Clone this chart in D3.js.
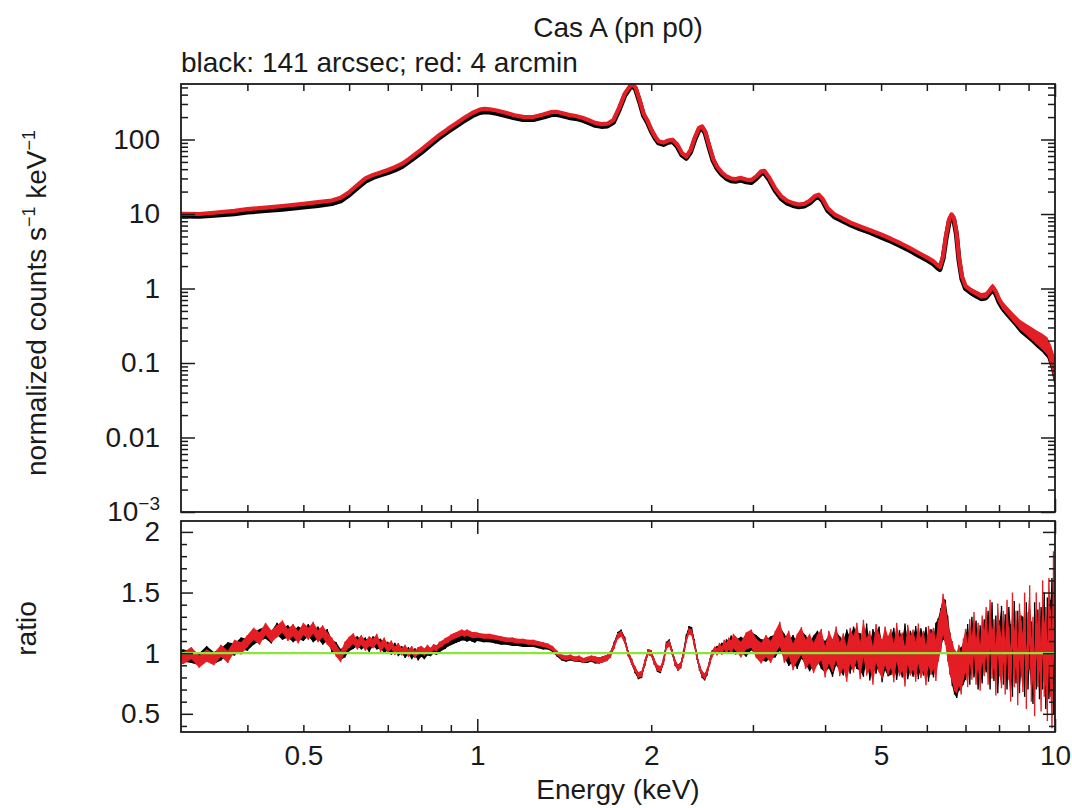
<!DOCTYPE html>
<html>
<head>
<meta charset="utf-8">
<script src="https://cdn.jsdelivr.net/npm/d3@7"></script>
<style>
  body { margin: 0; background: #fff; }
  text { font-family: "Liberation Sans", Arial, Helvetica, sans-serif; fill: #1a1a1a; }
</style>
</head>
<body>
<div id="container"></div>
<script>
/* DATA */
// upper panel: folded spectrum, counts s^-1 keV^-1
const specEnergy = [
  0.30, 0.33, 0.35, 0.38, 0.40, 0.43, 0.46, 0.50, 0.53, 0.56,
  0.58, 0.60, 0.62, 0.64, 0.66, 0.68, 0.70, 0.72, 0.74, 0.76,
  0.78, 0.80, 0.83, 0.86, 0.89, 0.92, 0.95, 0.98, 1.01, 1.03,
  1.05, 1.08, 1.12, 1.16, 1.20, 1.25, 1.30, 1.34, 1.37, 1.40,
  1.44, 1.48, 1.52, 1.56, 1.60, 1.64, 1.68, 1.72, 1.76, 1.80,
  1.84, 1.86, 1.88, 1.91, 1.94, 1.97, 2.00, 2.03, 2.06, 2.10,
  2.14, 2.18, 2.22, 2.26, 2.30, 2.34, 2.38, 2.42, 2.45, 2.48,
  2.52, 2.56, 2.60, 2.65, 2.70, 2.75, 2.80, 2.86, 2.92, 2.98,
  3.04, 3.10, 3.14, 3.20, 3.28, 3.36, 3.44, 3.52, 3.60, 3.68,
  3.76, 3.84, 3.90, 3.96, 4.04, 4.15, 4.30, 4.45, 4.60, 4.80,
  5.00, 5.20, 5.40, 5.60, 5.80, 6.00, 6.15, 6.25, 6.32, 6.40,
  6.48, 6.56, 6.62, 6.68, 6.75, 6.82, 6.90, 7.00, 7.15, 7.30,
  7.45, 7.60, 7.70, 7.80, 7.90, 8.00, 8.10, 8.30, 8.50, 8.70,
  8.90, 9.10, 9.30, 9.50, 9.70, 9.85, 10.0
];
const countsBlack = [
  9.4, 9.3, 9.6, 10.1, 10.6, 11.1, 11.6, 12.4, 13.0, 13.8,
  15.0, 18.0, 22.5, 27.5, 31, 33.5, 36, 39, 43, 50,
  58, 67, 85, 106, 128, 152, 180, 208, 230, 236,
  234, 225, 210, 195, 185, 185, 200, 215, 218, 210,
  198, 192, 182, 168, 155, 150, 152, 170, 250, 390,
  500, 520, 470, 320, 210, 170, 130, 105, 90, 86,
  92, 94, 80, 62, 56, 68, 100, 135, 142, 122,
  78, 52, 41, 34, 30, 28, 27.5, 28.5, 27, 26.5,
  30, 35, 35.5, 29, 20.5, 16, 14, 13, 12.5, 12.8,
  14, 16.3, 17, 15, 11.2, 9.2, 8.0, 7.0, 6.3, 5.6,
  4.9, 4.3, 3.75, 3.25, 2.8, 2.42, 2.15, 1.92, 1.8, 2.5,
  4.8, 8.0, 9.2, 8.4, 5.4, 2.4, 1.35, 1.0, 0.88, 0.8,
  0.74, 0.76, 0.86, 0.98, 0.84, 0.66, 0.56, 0.45, 0.37, 0.30,
  0.265, 0.235, 0.205, 0.185, 0.16, 0.12, 0.078
];
const countsRed = [
  10.1, 10.0, 10.4, 11.0, 11.6, 12.2, 12.8, 13.7, 14.4, 15.2,
  16.5, 19.6, 24.5, 30.0, 33.5, 36, 39, 42.5, 47, 54,
  63, 73, 92, 115, 139, 165, 196, 227, 252, 258,
  255, 245, 229, 212, 201, 200, 217, 233, 236, 227,
  214, 207, 196, 181, 167, 161, 163, 182, 266, 412,
  528, 548, 495, 338, 222, 180, 137, 111, 95, 91,
  97, 99, 85, 66, 59, 72, 106, 143, 150, 129,
  83, 55, 43.5, 36, 32, 30, 29.5, 30.5, 29, 28.5,
  32, 37.5, 38, 31, 22, 17.2, 15, 14, 13.4, 13.7,
  15, 17.4, 18.2, 16, 12, 9.9, 8.6, 7.5, 6.8, 6.0,
  5.3, 4.65, 4.05, 3.5, 3.02, 2.62, 2.33, 2.08, 1.95, 2.7,
  5.2, 8.6, 9.9, 9.0, 5.8, 2.6, 1.46, 1.08, 0.95, 0.87,
  0.80, 0.82, 0.93, 1.06, 0.91, 0.72, 0.61, 0.49, 0.40, 0.33,
  0.29, 0.255, 0.225, 0.2, 0.175, 0.13, 0.085
];
// fractional error of each upper-panel bin
const countsErr = [
  .03, .03, .03, .03, .03, .03, .03, .03, .03, .03,
  .025, .025, .025, .025, .025, .025, .025, .025, .025, .025,
  .02, .02, .02, .02, .02, .02, .02, .02, .02, .02,
  .02, .02, .02, .02, .02, .02, .02, .02, .02, .02,
  .02, .02, .02, .02, .02, .02, .02, .02, .02, .02,
  .02, .02, .02, .02, .02, .02, .02, .02, .02, .02,
  .02, .02, .02, .02, .02, .02, .02, .02, .02, .02,
  .025, .025, .025, .025, .025, .025, .025, .025, .025, .025,
  .03, .03, .03, .03, .03, .03, .03, .03, .03, .03,
  .035, .035, .035, .035, .035, .035, .035, .035, .035, .035,
  .04, .04, .04, .04, .04, .04, .04, .04, .04, .04,
  .05, .05, .05, .05, .05, .06, .07, .07, .08, .08,
  .09, .09, .1, .1, .1, .11, .12, .13, .14, .15,
  .17, .19, .21, .24, .27, .32, .4
];

// lower panel: data / model ratio
const ratioEnergy = [
  0.30, 0.31, 0.32, 0.33, 0.34, 0.35, 0.36, 0.37, 0.38, 0.39,
  0.40, 0.41, 0.42, 0.43, 0.44, 0.45, 0.46, 0.47, 0.48, 0.49,
  0.50, 0.51, 0.52, 0.53, 0.54, 0.55, 0.56, 0.57, 0.58, 0.59,
  0.60, 0.61, 0.62, 0.63, 0.64, 0.65, 0.66, 0.67, 0.68, 0.69,
  0.70, 0.71, 0.72, 0.73, 0.74, 0.75, 0.76, 0.77, 0.78, 0.79,
  0.80, 0.81, 0.82, 0.83, 0.84, 0.85, 0.86, 0.87, 0.88, 0.89,
  0.90, 0.91, 0.92, 0.93, 0.94, 0.95, 0.96, 0.97, 0.98, 0.99,
  1.000, 1.025, 1.050, 1.075, 1.100, 1.125, 1.150, 1.175, 1.200, 1.225,
  1.250, 1.275, 1.300, 1.325, 1.350, 1.375, 1.400, 1.425, 1.450, 1.475,
  1.500, 1.525, 1.550, 1.575, 1.600, 1.625, 1.650, 1.675, 1.700, 1.725,
  1.750, 1.775, 1.800, 1.825, 1.850, 1.875, 1.900, 1.925, 1.950, 1.975,
  2.000, 2.025, 2.050, 2.075, 2.100, 2.125, 2.150, 2.175, 2.200, 2.225,
  2.250, 2.275, 2.300, 2.325, 2.350, 2.375, 2.400, 2.425, 2.450, 2.475,
  2.500, 2.525, 2.550, 2.575, 2.600, 2.625, 2.650, 2.675, 2.700, 2.725,
  2.750, 2.775,
  2.80, 2.86, 2.92, 2.98, 3.04, 3.10, 3.16, 3.22, 3.28, 3.34,
  3.40, 3.46, 3.52, 3.58, 3.64, 3.70, 3.76, 3.82, 3.88, 3.94,
  4.00, 4.06, 4.12, 4.18, 4.24, 4.30, 4.36, 4.42, 4.48, 4.54,
  4.60, 4.66, 4.72, 4.78, 4.84, 4.90, 4.96, 5.02, 5.08, 5.14,
  5.20, 5.26, 5.32, 5.38, 5.44, 5.50, 5.56, 5.62, 5.68, 5.74,
  5.80, 5.86, 5.92, 5.98, 6.04, 6.10, 6.16, 6.22, 6.28, 6.34,
  6.40, 6.46, 6.52, 6.58, 6.64, 6.70, 6.76, 6.82, 6.88, 6.94,
  7.00, 7.06, 7.12, 7.18, 7.24, 7.30, 7.36, 7.42, 7.48, 7.54,
  7.60, 7.66, 7.72, 7.78, 7.84, 7.90, 7.96, 8.02, 8.08, 8.14,
  8.20, 8.26, 8.32, 8.38, 8.44, 8.50, 8.56, 8.62, 8.68, 8.74,
  8.80, 8.86, 8.92, 8.98, 9.04, 9.10, 9.16, 9.22, 9.28, 9.34,
  9.40, 9.46, 9.52, 9.58, 9.64, 9.70, 9.76, 9.82, 9.88, 9.94,
  10.00
];
const ratioRed = [
  0.97, 0.96, 1.00, 0.93, 0.98, 0.95, 1.02, 0.97, 1.06, 1.04,
  1.10, 1.16, 1.12, 1.20, 1.14, 1.18, 1.22, 1.15, 1.19, 1.13,
  1.20, 1.16, 1.21, 1.14, 1.18, 1.12, 1.08, 1.02, 0.97, 1.05,
  1.09, 1.12, 1.07, 1.11, 1.06, 1.10, 1.08, 1.12, 1.05, 1.09,
  1.04, 1.07, 1.02, 1.05, 1.01, 1.04, 1.00, 1.03, 0.99, 1.02,
  1.03, 1.01, 1.04, 1.02, 1.05, 1.04, 1.07, 1.08, 1.10, 1.11,
  1.13, 1.14, 1.15, 1.16, 1.17, 1.16, 1.17, 1.16, 1.15, 1.15,
  1.15, 1.14, 1.14, 1.13, 1.12, 1.11, 1.11, 1.10, 1.10, 1.09,
  1.09, 1.08, 1.07, 1.06, 1.04, 1.00, 0.97, 0.96, 0.97, 0.95,
  0.96, 0.94, 0.95, 0.96, 0.95, 0.94, 0.95, 0.96, 0.99, 1.06,
  1.14, 1.16, 1.10, 1.00, 0.93, 0.87, 0.82, 0.83, 0.92, 1.01,
  1.00, 0.93, 0.88, 0.87, 0.93, 1.06, 1.08, 1.01, 0.92, 0.88,
  0.90, 0.99, 1.11, 1.18, 1.17, 1.08, 0.97, 0.88, 0.83, 0.81,
  0.85, 0.93, 0.99, 1.03, 1.01, 1.05, 1.02, 1.07, 1.04, 1.08,
  1.05, 1.10,
  1.08, 1.03, 1.10, 1.12, 1.04, 1.00, 1.06, 1.01, 1.09, 1.16,
  1.02, 1.08, 0.97, 1.05, 1.10, 0.99, 1.04, 0.96, 1.03, 1.07,
  0.93, 1.05, 0.98, 1.08, 0.95, 1.02, 0.91, 1.06, 0.99, 1.10,
  0.94, 1.12, 0.97, 1.03, 0.90, 1.08, 1.00, 0.95, 1.06, 0.98,
  1.04, 0.92, 1.09, 0.97, 1.01, 0.89, 1.07, 0.98, 1.03, 0.93,
  1.08, 0.96, 1.02, 0.90, 1.06, 0.99, 1.04, 0.94, 1.10, 1.18,
  1.32, 1.24, 1.10, 0.99, 0.93, 0.86, 0.84, 0.90, 0.83, 0.95,
  1.02, 0.90, 1.10, 0.96, 1.16, 0.93, 1.06, 0.88, 1.12, 1.00,
  1.18, 0.94, 1.24, 0.99, 1.08, 0.86, 1.20, 1.02, 0.92, 1.14,
  0.88, 1.22, 1.00, 0.82, 1.28, 0.95, 1.12, 0.80, 1.18, 1.04,
  0.92, 1.26, 0.78, 1.10, 1.32, 0.86, 1.04, 0.74, 1.24, 0.98,
  1.14, 0.80, 1.30, 0.94, 1.06, 0.76, 1.28, 1.00, 0.78, 1.40,
  0.95
];
const ratioBlack = [
  0.99, 0.98, 0.97, 0.95, 1.01, 0.96, 0.99, 1.04, 1.03, 1.08,
  1.07, 1.12, 1.15, 1.17, 1.13, 1.20, 1.16, 1.18, 1.14, 1.17,
  1.15, 1.19, 1.14, 1.17, 1.12, 1.15, 1.06, 1.04, 0.99, 1.01,
  1.06, 1.08, 1.10, 1.07, 1.09, 1.05, 1.10, 1.07, 1.08, 1.04,
  1.06, 1.02, 1.05, 1.01, 1.03, 0.99, 1.02, 0.98, 1.01, 0.97,
  1.00, 0.98, 1.01, 1.00, 1.02, 1.01, 1.03, 1.05, 1.06, 1.08,
  1.09, 1.10, 1.11, 1.12, 1.13, 1.13, 1.12, 1.13, 1.12, 1.11,
  1.12, 1.11, 1.11, 1.10, 1.09, 1.09, 1.08, 1.08, 1.07, 1.07,
  1.07, 1.06, 1.05, 1.05, 1.03, 0.99, 0.96, 0.95, 0.96, 0.95,
  0.95, 0.94, 0.94, 0.95, 0.94, 0.94, 0.95, 0.96, 0.99, 1.07,
  1.15, 1.17, 1.11, 1.00, 0.93, 0.86, 0.81, 0.82, 0.92, 1.01,
  1.00, 0.93, 0.87, 0.86, 0.93, 1.07, 1.09, 1.01, 0.92, 0.88,
  0.90, 1.00, 1.13, 1.20, 1.19, 1.09, 0.97, 0.88, 0.82, 0.80,
  0.84, 0.93, 1.00, 1.02, 1.03, 1.03, 1.05, 1.04, 1.07, 1.05,
  1.09, 1.06,
  1.05, 1.07, 1.04, 1.10, 1.07, 1.03, 1.02, 1.05, 1.06, 1.12,
  1.06, 1.00, 1.04, 0.98, 1.07, 1.03, 0.97, 1.02, 1.06, 1.00,
  0.97, 1.01, 0.94, 1.04, 1.00, 0.96, 1.05, 0.98, 1.07, 1.02,
  1.01, 0.96, 1.09, 0.93, 1.04, 0.99, 1.06, 0.92, 1.02, 0.97,
  0.98, 1.05, 0.94, 1.03, 0.96, 1.08, 0.95, 1.02, 0.97, 1.06,
  0.95, 1.04, 0.98, 1.05, 0.93, 1.03, 0.97, 1.08, 1.12, 1.20,
  1.28, 1.27, 1.14, 1.00, 0.90, 0.83, 0.80, 0.86, 0.88, 0.91,
  0.96, 1.06, 0.92, 1.12, 0.98, 1.08, 0.89, 1.04, 0.94, 1.09,
  1.04, 1.15, 0.90, 1.22, 0.97, 1.10, 0.88, 1.06, 1.18, 0.95,
  1.10, 0.92, 1.16, 1.02, 0.86, 1.20, 0.98, 1.12, 0.90, 1.08,
  1.06, 0.88, 1.18, 0.94, 1.12, 1.00, 0.84, 1.16, 0.96, 1.10,
  0.90, 1.10, 1.00, 1.20, 0.86, 1.14, 0.96, 1.08, 1.22, 0.94,
  1.00
];
const ratioErr = [
  .05, .05, .05, .05, .05, .05, .05, .05, .05, .05,
  .05, .05, .05, .05, .05, .05, .05, .05, .05, .05,
  .05, .05, .05, .05, .05, .05, .05, .05, .045, .045,
  .045, .045, .04, .04, .04, .04, .04, .04, .04, .04,
  .035, .035, .035, .035, .03, .03, .03, .03, .03, .03,
  .03, .03, .03, .025, .025, .025, .025, .025, .025, .025,
  .025, .025, .025, .025, .025, .025, .025, .025, .025, .025,
  .02, .02, .02, .02, .02, .02, .02, .02, .02, .02,
  .02, .02, .02, .02, .02, .02, .02, .02, .02, .02,
  .02, .02, .02, .02, .025, .025, .025, .025, .025, .025,
  .025, .025, .025, .025, .025, .025, .025, .025, .025, .025,
  .025, .025, .025, .025, .025, .025, .025, .025, .025, .025,
  .025, .025, .025, .025, .025, .025, .025, .025, .025, .025,
  .025, .025, .025, .025, .03, .035, .035, .04, .045, .05,
  .055, .06,
  .06, .065, .07, .075, .08, .085, .09, .09, .095, .1,
  .1, .105, .11, .11, .115, .12, .12, .125, .125, .13,
  .13, .135, .135, .14, .14, .145, .145, .15, .15, .15,
  .155, .155, .155, .155, .16, .16, .16, .16, .16, .16,
  .16, .16, .16, .16, .16, .165, .165, .165, .165, .165,
  .165, .165, .165, .165, .165, .17, .17, .17, .17, .17,
  .17, .17, .17, .17, .17, .17, .17, .17, .17, .17,
  .18, .18, .18, .18, .18, .19, .19, .19, .19, .19,
  .2, .2, .2, .2, .2, .21, .21, .21, .21, .21,
  .22, .22, .22, .22, .22, .23, .23, .23, .23, .23,
  .24, .24, .24, .24, .24, .26, .26, .26, .26, .26,
  .28, .28, .3, .3, .32, .32, .34, .36, .4, .44,
  .5
];
const modelRatio = 1;

// tick labels
const xLabelTicks = [0.5, 1, 2, 5, 10];
const yTopLabelTicks = [1e-3, 0.01, 0.1, 1, 10, 100];
const yRatioLabelTicks = [0.5, 1, 1.5, 2];

const titleText = "Cas A (pn p0)";
const subtitleText = "black: 141 arcsec; red: 4 arcmin";

/* LAYOUT */
const width = 1072, height = 808;
const left = 181, right = 1055;
const topY0 = 84, topY1 = 512, botY0 = 521, botY1 = 732;
const RED = "#e31e24", BLACK = "#000", GREEN = "#8ee23c", INK = "#1a1a1a";

/* SCALES */
const x = d3.scaleLog().domain([0.307, 10]).range([left, right]);
const yTop = d3.scaleLog().domain([1e-3, 556]).range([topY1, topY0]);
const yRat = d3.scaleLinear().domain([0.35, 2.09]).range([botY1, botY0]);

const spec = specEnergy.map((e, i) => ({ e, b: countsBlack[i], r: countsRed[i], err: countsErr[i] }));
const ratio = ratioEnergy.map((e, i) => ({ e, b: ratioBlack[i], r: ratioRed[i], err: ratioErr[i] }));

const svg = d3.select("#container").append("svg")
  .attr("width", width)
  .attr("height", height)
  .style("display", "block");

const defs = svg.append("defs");
defs.append("clipPath").attr("id", "clipTop").append("rect")
  .attr("x", left).attr("y", topY0).attr("width", right - left).attr("height", topY1 - topY0);
defs.append("clipPath").attr("id", "clipBot").append("rect")
  .attr("x", left).attr("y", botY0).attr("width", right - left).attr("height", botY1 - botY0);

/* UPPER PANEL DATA */
const gTop = svg.append("g").attr("clip-path", "url(#clipTop)");
[["b", BLACK, 5], ["r", RED, 4.2]].forEach(([k, col, sw]) => {
  gTop.append("path")
    .datum(spec)
    .attr("fill", col)
    .attr("d", d3.area()
      .x(d => x(d.e))
      .y0(d => yTop(d[k] * (1 - d.err)))
      .y1(d => yTop(d[k] * (1 + d.err))));
  gTop.append("path")
    .datum(spec)
    .attr("fill", "none")
    .attr("stroke", col)
    .attr("stroke-width", sw)
    .attr("stroke-linejoin", "round")
    .attr("d", d3.line().x(d => x(d.e)).y(d => yTop(d[k])));
});

/* LOWER PANEL DATA */
const gBot = svg.append("g").attr("clip-path", "url(#clipBot)");
[["b", BLACK], ["r", RED]].forEach(([k, col]) => {
  gBot.append("path")
    .datum(ratio)
    .attr("fill", col)
    .attr("d", d3.area()
      .x(d => x(d.e))
      .y0(d => yRat(d[k] - d.err))
      .y1(d => yRat(d[k] + d.err)));
  gBot.selectAll("line.err-" + k)
    .data(ratio)
    .join("line")
    .attr("class", "err-" + k)
    .attr("x1", d => x(d.e)).attr("x2", d => x(d.e))
    .attr("y1", d => yRat(d[k] - d.err))
    .attr("y2", d => yRat(d[k] + d.err))
    .attr("stroke", col)
    .attr("stroke-width", 1.4);
  gBot.append("path")
    .datum(ratio)
    .attr("fill", "none")
    .attr("stroke", col)
    .attr("stroke-width", 1.5)
    .attr("d", d3.line().x(d => x(d.e)).y(d => yRat(d[k])));
});
gBot.append("line")
  .attr("x1", left).attr("x2", right)
  .attr("y1", yRat(modelRatio)).attr("y2", yRat(modelRatio))
  .attr("stroke", GREEN)
  .attr("stroke-width", 2.2);

/* TICKS */
const xMinor = [0.4, 0.5, 0.6, 0.7, 0.8, 0.9, 2, 3, 4, 5, 6, 7, 8, 9];
const xMajor = [1, 10];
const yTopMajor = yTopLabelTicks;
const yTopMinor = [];
yTopMajor.forEach(p => { if (p < 100) d3.range(2, 10).forEach(m => yTopMinor.push(p * m)); });
[2, 3, 4, 5].forEach(m => yTopMinor.push(100 * m));
const yRatMajor = yRatioLabelTicks;
const yRatMinor = d3.range(4, 21).map(v => v / 10).filter(v => !yRatMajor.some(m => Math.abs(m - v) < 1e-9));

function ticks(gen, vals, size, tx, ty) {
  const g = svg.append("g").attr("transform", `translate(${tx},${ty})`);
  g.call(gen.tickValues(vals).tickSize(-size).tickFormat(""));
  g.select(".domain").remove();
  g.selectAll("line").attr("stroke", INK).attr("stroke-width", 1.5);
}
[[topY0, topY1], [botY0, botY1]].forEach(([a, b]) => {
  ticks(d3.axisTop(x), xMinor, 7, 0, a);
  ticks(d3.axisTop(x), xMajor, 13, 0, a);
  ticks(d3.axisBottom(x), xMinor, 7, 0, b);
  ticks(d3.axisBottom(x), xMajor, 13, 0, b);
});
ticks(d3.axisLeft(yTop), yTopMinor, 7, left, 0);
ticks(d3.axisLeft(yTop), yTopMajor, 14, left, 0);
ticks(d3.axisRight(yTop), yTopMinor, 7, right, 0);
ticks(d3.axisRight(yTop), yTopMajor, 14, right, 0);
ticks(d3.axisLeft(yRat), yRatMinor, 6, left, 0);
ticks(d3.axisLeft(yRat), yRatMajor, 12, left, 0);
ticks(d3.axisRight(yRat), yRatMinor, 6, right, 0);
ticks(d3.axisRight(yRat), yRatMajor, 12, right, 0);

/* FRAMES */
[[topY0, topY1], [botY0, botY1]].forEach(([a, b]) => {
  svg.append("rect")
    .attr("x", left).attr("y", a)
    .attr("width", right - left).attr("height", b - a)
    .attr("fill", "none").attr("stroke", INK).attr("stroke-width", 1.8);
});

/* TICK LABELS */
function labels(gen, tx, ty, pad) {
  const g = svg.append("g").attr("transform", `translate(${tx},${ty})`);
  g.call(gen.tickSize(0).tickPadding(pad));
  g.select(".domain").remove();
  g.attr("font-size", 28).attr("font-family", null);
  g.selectAll("text").attr("fill", INK);
  return g;
}
labels(d3.axisBottom(x).tickValues(xLabelTicks).tickFormat(d3.format("~g")), 0, botY1, 13);
const gyTop = labels(d3.axisLeft(yTop).tickValues(yTopLabelTicks).tickFormat(d => d >= 1 ? String(d) : d3.format("~g")(d)), left, 0, 21);
gyTop.selectAll("text").filter(d => d === 1e-3).each(function () {
  const t = d3.select(this).text("");
  t.append("tspan").text("10");
  t.append("tspan").attr("font-size", 19).attr("dy", -11).text("−3");
});
labels(d3.axisLeft(yRat).tickValues(yRatioLabelTicks).tickFormat(d3.format("~g")), left, 0, 21);

/* TITLES */
svg.append("text")
  .attr("x", (left + right) / 2).attr("y", 37)
  .attr("text-anchor", "middle").attr("font-size", 28)
  .text(titleText);
svg.append("text")
  .attr("x", left).attr("y", 72)
  .attr("font-size", 28)
  .text(subtitleText);

const yl = svg.append("text")
  .attr("transform", `translate(46,${(topY0 + topY1) / 2 + 5}) rotate(-90)`)
  .attr("text-anchor", "middle").attr("font-size", 28);
yl.append("tspan").text("normalized counts s");
yl.append("tspan").attr("font-size", 18).attr("dy", -11).text("−1");
yl.append("tspan").attr("dy", 11).text(" keV");
yl.append("tspan").attr("font-size", 18).attr("dy", -11).text("−1");

svg.append("text")
  .attr("transform", `translate(36,${(botY0 + botY1) / 2 + 2}) rotate(-90)`)
  .attr("text-anchor", "middle").attr("font-size", 28)
  .text("ratio");

svg.append("text")
  .attr("x", (left + right) / 2).attr("y", 799)
  .attr("text-anchor", "middle").attr("font-size", 28)
  .text("Energy (keV)");
</script>
</body>
</html>
